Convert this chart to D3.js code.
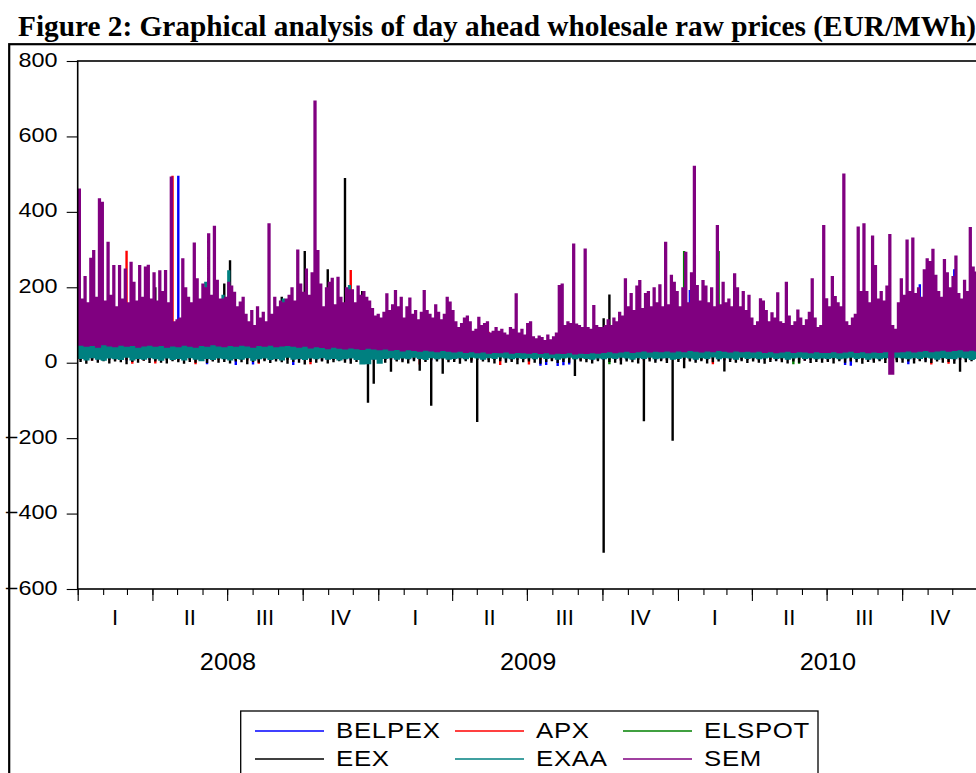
<!DOCTYPE html>
<html>
<head>
<meta charset="utf-8">
<script src="https://cdn.jsdelivr.net/npm/d3@7"></script>
<style>
  body { margin: 0; background: #fff; }
  svg { display: block; }
  text { font-family: "Liberation Sans", Arial, sans-serif; fill: #000; }
</style>
</head>
<body>
<svg id="chart" width="976" height="773"></svg>
<script>
// ---------------- data (EUR/MWh) ----------------
// weekly series start 2008-01-01, one value per week (157 weeks)
// SEM and EXAA highs are half-weekly (313 values)
var startDate = new Date(2008, 0, 1);
var seriesNames = ["BELPEX", "APX", "ELSPOT", "EEX", "EXAA", "SEM"];
var seriesColors = ["#0000ff", "#ff0000", "#008000", "#000000", "#008080", "#800080"];
var quarterLabels = ["I", "II", "III", "IV"];
var years = [2008, 2009, 2010];
var yTicks = [-600, -400, -200, 0, 200, 400, 600, 800];

var semLo = [45,42,44,40,46,43,41,45,42,44,40,43,45, 42,44,40,43,41,45,42,40,44,42,46,43,41,
  44,42,45,43,40,44,42,45,41,43,44,42,40, 42,38,41,39,36,40,37,35,38,36,34,37,35,
  33,35,32,34,30,33,31,29,32,30,28,31,29, 27,29,26,28,25,27,24,26,25,27,24,26,25,
  24,26,23,25,22,24,23,25,22,24,23,25,24, 26,28,25,27,29,26,28,30,27,29,28,30,27,
  30,28,31,29,27,30,28,31,29,27,30,28,29, 27,29,26,28,25,27,29,26,28,27,25,28,26,
  26,28,25,27,29,26,28,25,27,26,28,-32,27, 28,30,27,29,31,28,30,32,29,31,33,30,32,30];
var semHi = [462,170,230,160,278,299,175,436,427,165,321,180,259,150,259,170,250,160,268,215,165,259,175,255,260,170,
  240,165,245,190,246,160,494,110,115,120,277,200,175,160,319,224,170,210,200,343,180,363,220,170,170,175,
  215,205,188,150,162,175,130,110,140,100,150,120,135,110,370,130,175,150,165,160,170,180,200,165,300,210,
  188,250,180,240,695,299,210,150,200,215,225,155,228,175,160,200,195,195,160,205,180,190,175,165,145,125,
  130,120,135,184,140,155,193,150,175,120,150,173,130,140,115,135,193,140,130,120,155,135,115,130,175,162,
  140,110,95,105,120,125,110,85,90,122,100,105,110,80,85,95,85,90,80,75,95,90,184,80,90,75,
  105,110,70,65,72,68,60,75,62,70,80,206,210,100,110,105,316,104,100,95,303,95,90,153,100,95,
  95,100,115,100,120,110,135,125,224,150,185,140,205,219,145,185,190,150,200,160,208,150,321,155,233,215,
  190,150,200,294,160,240,522,206,165,219,205,160,200,150,365,155,215,160,170,150,237,200,150,190,140,180,
  120,100,110,171,165,140,110,134,120,187,110,105,215,125,100,110,141,120,100,115,135,224,120,95,100,365,
  171,150,230,177,160,150,502,110,100,120,130,361,190,370,190,160,337,259,170,190,165,205,341,100,90,160,
  224,180,327,190,332,185,200,175,248,277,270,302,233,190,175,275,240,200,230,284,185,170,220,190,360,255,242];

var exaaLo = [10,6,12,8,5,11,9,7,13,6,10,8,12, 9,5,11,7,10,6,12,8,4,10,7,11,9,
  6,10,8,12,5,9,11,7,10,6,13,8,10, 7,11,9,12,8,10,6,9,11,7,-5,-4,8,
  -3,10,12,8,11,9,13,10,7,12,9,11,8, 10,12,9,13,11,8,12,10,14,11,9,12,10,
  12,9,13,10,12,8,11,13,9,12,10,8,11, 9,12,10,13,11,8,12,10,13,9,11,12,8,
  10,13,11,8,12,10,14,9,12,11,8,13,10, 12,9,11,13,10,12,8,11,13,10,12,9,11,
  10,12,9,11,13,10,12,8,11,9,12,10,13, 11,9,12,10,13,11,8,12,10,9,13,11,7,10];
var exaaHi = [85,90,78,95,82,88,100,92,80,86,94,78,90,84,96,88,82,91,86,79,93,87,81,95,88,84,
  90,83,97,86,92,120,88,95,82,99,87,93,85,101,89,94,84,98,215,90,96,105,87,92,180,95,
  245,110,98,92,104,88,95,86,80,90,84,92,88,96,82,99,91,86,94,170,89,97,92,100,88,95,
  93,102,89,97,108,94,100,91,105,96,88,99,93,104,90,97,206,101,95,88,92,86,80,84,78,72,
  70,75,68,80,72,66,74,70,78,65,71,68,62,70,64,67,60,66,58,63,61,57,64,59,55,60,
  56,52,58,54,50,55,53,48,52,49,54,47,51,50,46,52,48,45,50,47,49,44,48,46,50,45,
  48,46,44,49,45,47,43,48,46,44,50,47,45,49,46,48,44,47,50,46,48,45,49,47,51,48,
  50,53,49,55,52,57,54,58,55,60,57,62,58,56,61,59,63,60,58,64,61,65,62,60,66,63,
  65,68,64,70,66,72,69,65,71,67,73,68,70,66,72,69,74,70,67,71,68,65,70,67,64,69,
  62,66,63,60,65,62,58,64,61,59,63,60,57,62,59,61,58,63,60,57,61,59,56,60,58,62,
  60,57,62,59,61,58,63,60,64,61,59,62,60,65,62,58,63,61,66,62,59,64,61,60,63,65,
  66,63,68,65,70,67,64,69,72,68,71,67,73,70,74,69,72,75,71,68,73,76,72,70,74,71,73];

var eexLo = [2,-3,5,0,4,-2,3,1,-4,2,0,5,-1, 3,0,-2,4,1,-3,2,0,5,-1,3,0,2,
  -2,3,1,-4,2,0,4,-1,3,1,-3,2,0, -5,2,0,3,-2,1,4,0,-3,2,1,-106,-56,
  2,0,-24,3,1,-2,4,-21,2,-114,3,-29,1, 2,-3,4,0,-157,3,1,-2,4,0,2,-4,1,
  3,0,-3,2,4,-1,2,0,-35,3,1,-2,4, -504,2,0,-5,3,1,-2,-155,3,0,4,-1,-207,
  2,-15,3,0,4,-2,1,3,-23,2,0,4,-1, 3,0,-3,2,4,1,-2,3,0,5,-1,2,0,
  2,-2,4,0,3,1,-3,2,0,4,-1,3,1, 0,3,-2,4,1,-1,3,0,2,-3,-24,1,4,0];
var eexHi = [58,55,60,52,57,54,59,56,53,58,55,60,54, 200,57,53,59,55,52,58,54,60,56,53,57,210,
  272,55,58,53,59,56,52,57,54,175,58,55,60, 296,54,57,52,248,55,59,490,53,56,190,54,57,
  52,48,50,46,49,45,51,47,44,48,46,50,45, 47,44,49,43,46,42,48,45,41,46,43,47,44,
  42,45,40,44,41,46,43,40,45,42,44,41,46, 118,181,47,50,46,52,48,51,47,53,49,52,50,
  53,50,55,51,54,49,56,52,50,55,51,54,52, 50,53,48,52,49,54,47,51,48,53,50,47,52,
  49,52,48,54,50,47,53,49,51,48,52,50,55, 53,56,51,57,54,52,58,55,53,57,54,59,56,58];

var belpexLo = [8,7,9,6,8,7,9,8,6,7,9,8,7, 8,6,9,7,8,7,9,6,8,-4,7,9,8,
  7,-6,8,9,-5,7,8,6,9,7,8,-6,7, 8,7,9,6,8,7,9,8,6,7,9,8,7,
  9,8,7,9,6,8,7,9,8,6,7,9,8, 7,9,8,6,7,9,8,7,9,6,8,7,9,
  8,7,-8,-6,9,-9,-7,-5,8,7,9,6,8, 7,9,8,6,7,9,8,7,9,6,8,7,9,
  8,7,9,6,8,7,9,8,6,7,9,8,7, 9,8,7,9,6,8,7,9,8,6,7,9,8,
  7,9,8,-6,-8,7,9,8,6,7,9,8,7, 8,-4,7,9,6,8,7,9,8,6,7,9,8,7];
var belpexHi = [52,55,50,57,53,56,51,54,58,52,55,50,56, 53,57,51,55,496,52,56,50,54,57,51,55,53,
  56,52,55,50,57,53,54,51,56,52,55,50,57, 52,55,50,57,53,56,51,54,58,52,55,50,56,
  48,45,50,44,47,43,49,46,42,47,44,48,45, 44,41,46,42,45,40,43,41,45,42,44,40,43,
  41,44,40,43,39,42,44,40,43,41,39,42,40, 45,48,44,47,46,49,45,48,47,50,46,49,48,
  50,53,193,51,54,49,118,52,50,55,51,54,52, 50,53,48,52,49,54,47,51,48,53,50,47,52,
  49,52,48,54,50,47,53,49,51,48,52,50,55, 53,56,51,208,54,52,58,55,53,248,54,57,56,58];

var apxLo = [7,8,6,9,7,8,6,9,7,-3,8,6,9, -2,8,7,9,6,8,7,-4,9,8,6,7,9,
  8,7,9,6,8,-3,7,9,8,6,7,9,8, 7,-4,8,6,9,7,8,6,9,7,8,6,9,
  8,7,9,6,8,7,9,-5,6,8,7,9,6, 7,9,8,6,7,9,8,7,-6,9,6,8,7,
  -5,8,7,9,6,8,7,9,8,6,7,9,8, 9,7,8,6,9,7,8,6,9,7,8,6,9,
  7,8,6,9,7,8,-4,9,7,8,6,9,7, 8,6,9,7,8,6,9,7,8,6,9,7,8,
  6,9,7,8,6,9,7,8,6,9,7,8,6, 9,7,8,6,9,-5,8,7,-3,6,9,7,8,6];
var apxHi = [55,52,57,53,56,54,58,51,297,55,53,57,52, 56,54,53,496,57,52,55,58,53,56,51,54,57,
  53,57,52,55,58,54,51,56,53,57,52,55,54, 57,53,56,52,55,58,54,51,246,56,53,57,52,
  48,45,50,44,47,43,49,46,42,47,44,48,45, 44,41,46,42,45,40,82,41,45,42,44,40,43,
  100,44,40,43,39,42,44,40,43,41,39,42,40, 45,48,44,47,46,49,45,48,47,50,46,49,48,
  50,53,48,51,54,49,52,52,50,55,51,54,52, 50,53,48,52,49,54,47,51,48,53,50,47,52,
  49,52,48,54,50,47,53,49,51,48,52,50,55, 53,56,51,57,54,52,58,55,53,57,54,59,56,58];

var elspotLo = [12,14,11,13,12,10,14,11,13,12,14,10,13, 11,13,12,14,10,13,11,12,14,11,13,12,10,
  14,11,13,12,10,14,11,13,12,14,10,13,11, 12,14,11,13,12,10,14,11,13,12,-3,13,11,
  13,11,12,14,10,13,11,12,14,11,13,12,10, 11,13,12,10,14,11,13,12,10,14,11,13,12,
  12,10,14,11,13,12,10,14,11,13,12,10,14, 11,-4,12,14,10,13,11,12,14,11,13,12,10,
  13,11,12,14,10,13,11,12,14,11,13,12,10, 12,14,11,13,12,10,14,-4,-3,12,11,13,12,
  11,13,12,10,14,11,13,12,10,14,11,13,12, 12,10,14,11,13,12,10,14,11,13,12,10,14,11];
var elspotHi = [52,55,50,57,53,56,51,54,58,52,55,50,56, 53,57,51,55,52,56,50,54,57,51,55,53,56,
  56,52,55,50,57,53,54,51,56,52,55,50,57, 52,55,50,57,53,56,51,54,58,52,55,50,56,
  48,45,50,44,47,43,49,46,42,47,44,48,45, 44,41,46,42,45,40,43,41,45,42,44,40,43,
  41,44,40,43,39,42,44,40,43,41,39,42,40, 45,48,44,47,46,49,45,48,47,50,46,49,48,
  52,296,50,54,51,55,53,296,52,50,54,51,53, 50,53,48,52,49,54,47,51,48,53,50,47,52,
  49,52,48,54,50,47,53,49,51,48,52,50,55, 53,56,51,57,54,52,58,55,53,57,54,59,56,58];

// ---------------- chart ----------------
var svg = d3.select("#chart");
var plotLeft = 77.7, plotRight = 977.7, plotTop = 61, plotBottom = 589;

var x = d3.scaleTime()
  .domain([new Date(2008, 0, 1), new Date(2011, 0, 1)])
  .range([plotLeft, plotRight]);
var y = d3.scaleLinear().domain([-600, 800]).range([plotBottom, plotTop]);

function dayDate(d) { return new Date(startDate.getTime() + d * 864e5); }

// half-weekly bars: lo is weekly, hi is half-weekly
function bandPath(lo, hi) {
  var p = "";
  hi.forEach(function(v, i) {
    var x0 = x(dayDate(i * 3.5)), x1 = x(dayDate((i + 1) * 3.5)) + 0.4;
    var y0 = y(lo[Math.floor(i / 2)]), y1 = y(v);
    p += "M" + x0 + "," + y0 + "V" + y1 + "H" + x1 + "V" + y0 + "Z";
  });
  return p;
}
// weekly low-high lines
function rangePath(lo, hi) {
  var p = "";
  lo.forEach(function(v, i) {
    var xc = x(dayDate(i * 7 + 3.5));
    p += "M" + xc + "," + y(v) + "V" + y(hi[i]);
  });
  return p;
}

// outer frame
svg.append("rect")
  .attr("x", 9.2).attr("y", 44.2).attr("width", 1000).attr("height", 1000)
  .attr("fill", "none").attr("stroke", "#000").attr("stroke-width", 2.2);

// title
svg.append("text")
  .attr("x", 18).attr("y", 36)
  .style("font-family", "'Liberation Serif', 'Times New Roman', serif")
  .style("font-weight", "bold").style("font-size", "29.3px")
  .text("Figure 2: Graphical analysis of day ahead wholesale raw prices (EUR/MWh)");

svg.append("clipPath").attr("id", "plotclip")
  .append("rect").attr("x", plotLeft).attr("y", plotTop)
  .attr("width", plotRight - plotLeft).attr("height", plotBottom - plotTop);

var plot = svg.append("g").attr("clip-path", "url(#plotclip)");

var thin = [
  [belpexLo, belpexHi, 0],
  [apxLo, apxHi, 1],
  [elspotLo, elspotHi, 2],
  [eexLo, eexHi, 3]
];
thin.forEach(function(s) {
  plot.append("path")
    .attr("d", rangePath(s[0], s[1]))
    .attr("fill", "none")
    .attr("stroke", seriesColors[s[2]])
    .attr("stroke-width", 2.4);
});
plot.append("path").attr("d", bandPath(exaaLo, exaaHi)).attr("fill", seriesColors[4]);
plot.append("path").attr("d", bandPath(semLo, semHi)).attr("fill", seriesColors[5]);

// plot border
svg.append("rect")
  .attr("x", plotLeft).attr("y", plotTop)
  .attr("width", plotRight - plotLeft).attr("height", plotBottom - plotTop)
  .attr("fill", "none").attr("stroke", "#000").attr("stroke-width", 1.6);

// y axis
var yAxis = svg.append("g")
  .attr("transform", "translate(" + plotLeft + ",0)")
  .call(d3.axisLeft(y).tickValues(yTicks).tickSize(11).tickSizeOuter(0));
yAxis.select(".domain").remove();
yAxis.selectAll("line").attr("stroke", "#000").attr("stroke-width", 1.1);
yAxis.selectAll("text")
  .attr("x", null).attr("dy", null)
  .attr("transform", "translate(-20.2,5) scale(1.2,1)")
  .style("font-size", "19.5px")
  .attr("text-anchor", "end")
  .attr("fill", "#000");

// x axis: month and quarter ticks
var xMinor = svg.append("g")
  .attr("transform", "translate(0," + plotBottom + ")")
  .call(d3.axisBottom(x).ticks(d3.timeMonth.every(1)).tickSize(6).tickSizeOuter(0).tickFormat(""));
xMinor.select(".domain").remove();
var xMajor = svg.append("g")
  .attr("transform", "translate(0," + plotBottom + ")")
  .call(d3.axisBottom(x).ticks(d3.timeMonth.every(3)).tickSize(12).tickSizeOuter(0).tickFormat(""));
xMajor.select(".domain").remove();
svg.selectAll(".tick line").attr("stroke", "#000").attr("stroke-width", 1.1);

var quarters = [];
years.forEach(function(yr) {
  quarterLabels.forEach(function(q, qi) {
    quarters.push({ label: q, start: new Date(yr, qi * 3, 1), end: new Date(yr, qi * 3 + 3, 1) });
  });
});
svg.append("g").selectAll("text")
  .data(quarters).enter().append("text")
  .attr("x", function(d) { return x(new Date((d.start.getTime() + d.end.getTime()) / 2)); })
  .attr("y", 625)
  .attr("text-anchor", "middle")
  .style("font-size", "22px")
  .text(function(d) { return d.label; });

svg.append("g").selectAll("text")
  .data(years).enter().append("text")
  .attr("transform", function(d) {
    var mid = (new Date(d, 0, 1).getTime() + new Date(d + 1, 0, 1).getTime()) / 2;
    return "translate(" + x(new Date(mid)) + ",670) scale(1.1,1)";
  })
  .attr("text-anchor", "middle")
  .style("font-size", "23px")
  .text(function(d) { return d; });

// legend
var legend = svg.append("g");
legend.append("rect")
  .attr("x", 240.7).attr("y", 711).attr("width", 577.3).attr("height", 100)
  .attr("fill", "#fff").attr("stroke", "#000").attr("stroke-width", 1.3);
var legendCols = [255, 455, 623];
var legendRows = [731, 759];
seriesNames.forEach(function(name, i) {
  var cx = legendCols[i % 3], cy = legendRows[Math.floor(i / 3)];
  legend.append("line")
    .attr("x1", cx).attr("x2", cx + 69).attr("y1", cy).attr("y2", cy)
    .attr("stroke", seriesColors[i]).attr("stroke-width", 1.6);
  legend.append("text")
    .attr("transform", "translate(" + (cx + 81) + "," + (cy + 7) + ") scale(1.2,1)")
    .style("font-size", "21.5px")
    .style("letter-spacing", "0.6px")
    .text(name);
});
</script>
</body>
</html>
